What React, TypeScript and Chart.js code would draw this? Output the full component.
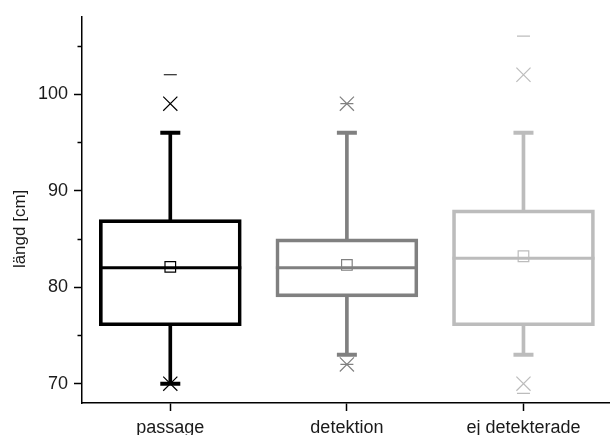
import { useEffect, useRef } from 'react';
import { Chart, registerables } from 'chart.js';

Chart.register(...registerables);

// Length distributions per group (cm)
const categories = ['passage', 'detektion', 'ej detekterade'];
const boxLow = [76, 79, 76];
const boxHigh = [87, 85, 88];
const medians = [82, 82, 83];
const means = [82.1, 82.3, 83.2];
const whiskerLow = [70, 73, 73];
const whiskerHigh = [96, 96, 96];
const pct1 = [70, 72, 70];
const pct99 = [99, 99, 102];
const minima = [70, 72, 69];
const maxima = [102, 99, 106];
const yMajorTicks = [70, 80, 90, 100];
const yMinorTicks = [75, 85, 95, 105];
const yTitle = 'längd [cm]';

const groupColors = ['#000000', '#808080', '#bcbcbc'];
const FONT = '"Liberation Sans", Arial, Helvetica, sans-serif';
const TEXT = '#1a1a1a';

const colorOf = (ctx: any) => groupColors[ctx.raw ? ctx.raw.x : ctx.dataIndex] ?? '#000';

const axisDecor = {
  id: 'axisDecor',
  afterDraw(chart: any) {
    const { ctx, chartArea, scales } = chart;
    const y = scales.y;
    ctx.save();
    // minor ticks on the value axis
    ctx.strokeStyle = '#000';
    ctx.lineWidth = 1.5;
    yMinorTicks.forEach((v) => {
      const py = Math.round(y.getPixelForValue(v)) + 0.5;
      ctx.beginPath();
      ctx.moveTo(chartArea.left - 4.5, py);
      ctx.lineTo(chartArea.left, py);
      ctx.stroke();
    });
    // value axis title
    ctx.translate(20, (chartArea.top + chartArea.bottom) / 2 + 19);
    ctx.rotate(-Math.PI / 2);
    ctx.font = `17px ${FONT}`;
    ctx.fillStyle = TEXT;
    ctx.textAlign = 'center';
    ctx.textBaseline = 'middle';
    ctx.fillText(yTitle, 0, 0);
    ctx.restore();
  },
};

export default function App() {
  const canvasRef = useRef<HTMLCanvasElement | null>(null);

  useEffect(() => {
    if (!canvasRef.current) return;
    const idx = categories.map((_, i) => i);
    const chart = new Chart(canvasRef.current, {
      type: 'bar',
      data: {
        datasets: [
          {
            type: 'scatter',
            label: 'min/max',
            data: [
              ...idx.map((i) => ({ x: i, y: minima[i] })),
              ...idx.map((i) => ({ x: i, y: maxima[i] })),
            ],
            pointStyle: 'line',
            pointRadius: 6.5,
            pointBorderWidth: 1.2,
            pointBorderColor: colorOf,
          } as any,
          {
            type: 'scatter',
            label: '1% / 99%',
            data: [
              ...idx.map((i) => ({ x: i, y: pct1[i] })),
              ...idx.map((i) => ({ x: i, y: pct99[i] })),
            ],
            pointStyle: 'crossRot',
            pointRadius: 10,
            pointBorderWidth: 1.2,
            pointBorderColor: colorOf,
          } as any,
          {
            type: 'scatter',
            label: 'mean',
            data: idx.map((i) => ({ x: i, y: means[i] })),
            pointStyle: 'rect',
            pointRadius: 7.5,
            pointBorderWidth: 1.2,
            pointBackgroundColor: 'rgba(0,0,0,0)',
            pointBorderColor: colorOf,
          } as any,
          {
            type: 'scatter',
            label: 'median',
            data: idx.map((i) => ({ x: i, y: medians[i] })),
            pointStyle: 'line',
            pointRadius: 71,
            pointBorderWidth: 3,
            pointBorderColor: colorOf,
          } as any,
          {
            type: 'scatter',
            label: 'caps',
            data: [
              ...idx.map((i) => ({ x: i, y: whiskerLow[i] })),
              ...idx.map((i) => ({ x: i, y: whiskerHigh[i] })),
            ],
            pointStyle: 'line',
            pointRadius: 10,
            pointBorderWidth: 4,
            pointBorderColor: colorOf,
          } as any,
          {
            type: 'bar',
            label: 'box',
            data: idx.map((i) => ({ x: i, y: [boxLow[i], boxHigh[i]] })),
            backgroundColor: 'rgba(0,0,0,0)',
            borderColor: groupColors,
            borderWidth: 3,
            borderSkipped: false,
            barThickness: 142,
            grouped: false,
          } as any,
          {
            type: 'bar',
            label: 'upper whisker',
            data: idx.map((i) => ({ x: i, y: [boxHigh[i], whiskerHigh[i]] })),
            backgroundColor: groupColors,
            borderWidth: 0,
            barThickness: 3,
            grouped: false,
          } as any,
          {
            type: 'bar',
            label: 'lower whisker',
            data: idx.map((i) => ({ x: i, y: [whiskerLow[i], boxLow[i]] })),
            backgroundColor: groupColors,
            borderWidth: 0,
            barThickness: 3,
            grouped: false,
          } as any,
        ],
      },
      options: {
        responsive: false,
        animation: false,
        events: [],
        layout: { autoPadding: false, padding: { top: 14, left: 0, right: 0, bottom: 0 } },
        plugins: {
          legend: { display: false },
          tooltip: { enabled: false },
        },
        scales: {
          x: {
            type: 'linear',
            min: -0.5,
            max: 2.49,
            offset: false,
            afterBuildTicks: (s: any) => {
              s.ticks = idx.map((i) => ({ value: i }));
            },
            afterFit: (s: any) => {
              s.height = 32;
            },
            grid: {
              offset: false,
              drawOnChartArea: false,
              tickLength: 8,
              tickColor: '#000',
              tickWidth: 1.5,
            },
            border: { color: '#000', width: 1.5 },
            ticks: {
              callback: (v: any) => categories[v] ?? '',
              autoSkip: false,
              maxRotation: 0,
              padding: 6,
              color: TEXT,
              font: { family: FONT, size: 18 },
            },
          },
          y: {
            type: 'linear',
            min: 68,
            max: 108,
            afterBuildTicks: (s: any) => {
              s.ticks = yMajorTicks.map((v) => ({ value: v }));
            },
            afterFit: (s: any) => {
              s.width = 82;
            },
            grid: {
              drawOnChartArea: false,
              tickLength: 8,
              tickColor: '#000',
              tickWidth: 1.5,
            },
            border: { color: '#000', width: 1.5 },
            ticks: {
              padding: 6,
              color: TEXT,
              font: { family: FONT, size: 18 },
            },
          },
        },
      } as any,
      plugins: [axisDecor],
    });
    return () => chart.destroy();
  }, []);

  return (
    <div style={{ position: 'absolute', left: 0, top: 0, width: 610, height: 435, background: '#fff' }}>
      <canvas ref={canvasRef} width={610} height={435} style={{ display: 'block' }} />
    </div>
  );
}
